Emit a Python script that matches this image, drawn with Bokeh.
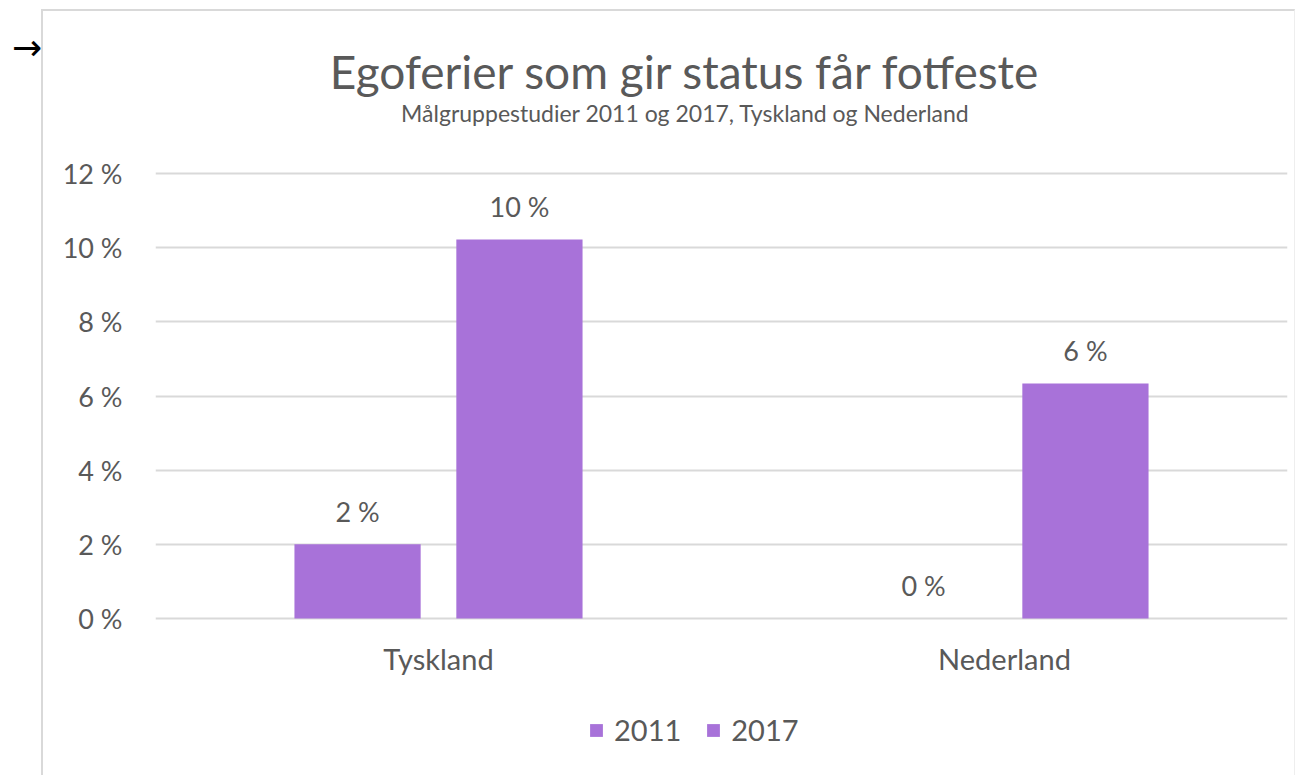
from bokeh.plotting import figure
from bokeh.models import (ColumnDataSource, FactorRange, Range1d, LabelSet, Label,
                          Legend, LegendItem, FixedTicker, CustomJSTickFormatter, Div, Spacer)
from bokeh.layouts import row, column
from bokeh.transform import dodge
from bokeh.embed import file_html
from bokeh.resources import INLINE
from bokeh.core.properties import value

categories = ["Tyskland", "Nederland"]
series_names = ["2011", "2017"]
values_2011 = [2.0, 0.0]
values_2017 = [10.22, 6.34]
y_ticks = [0, 2, 4, 6, 8, 10, 12]

title_text = "Egoferier som gir status får fotfeste"
subtitle_text = "Målgruppestudier 2011 og 2017, Tyskland og Nederland"

FONT = "Lato"
TXT = "#595959"
BAR = "#A872D9"
GRID = "#D9D9D9"

# page geometry (canvas starts at page x=43, y=11)
CX0, CY0 = 43, 11
W, H = 1254, 766
FRAME_L, FRAME_R, FRAME_T, FRAME_B = 155, 1287, 30, 772
Y0_PAGE, Y12_PAGE = 618, 173
ML = FRAME_L - CX0
MR = (CX0 + W) - FRAME_R
MT = FRAME_T - CY0
MB = (CY0 + H) - FRAME_B
PX_PER_UNIT = (Y0_PAGE - Y12_PAGE) / 12.0
Y_TOP = 12 + (Y12_PAGE - FRAME_T) / PX_PER_UNIT
Y_BOT = -(FRAME_B - Y0_PAGE) / PX_PER_UNIT

src = ColumnDataSource(dict(
    cat=categories,
    v2011=values_2011,
    v2017=values_2017,
    l2011=[f"{round(v)} %" for v in values_2011],
    l2017=[f"{round(v)} %" for v in values_2017],
))

p = figure(width=W, height=H, output_backend="svg", toolbar_location=None,
           x_range=FactorRange(*categories, range_padding=0),
           y_range=Range1d(Y_BOT, Y_TOP),
           min_border_left=ML, min_border_right=MR, min_border_top=MT, min_border_bottom=MB,
           background_fill_color="white", border_fill_color="white")
p.outline_line_color = None
p.styles = {"border-left": "2px solid #d9d9d9", "border-top": "2px solid #d9d9d9",
            "border-right": "1px solid #eeeeee"}

bw = 0.223
off = 0.143
r1 = p.vbar(x=dodge("cat", -off, range=p.x_range), top="v2011", width=bw, source=src,
            fill_color=BAR, line_color=None)
r2 = p.vbar(x=dodge("cat", off, range=p.x_range), top="v2017", width=bw, source=src,
            fill_color=BAR, line_color=None)

for col, lab, o in (("v2011", "l2011", -off), ("v2017", "l2017", off)):
    p.add_layout(LabelSet(x=dodge("cat", o, range=p.x_range), y=col, text=lab, source=src,
                          text_align="center", text_baseline="middle", y_offset=33,
                          text_font=value(FONT), text_font_size="27px", text_color=TXT))

# axes
p.yaxis.ticker = FixedTicker(ticks=y_ticks)
p.yaxis.formatter = CustomJSTickFormatter(code="return tick.toFixed(0) + ' %';")
for ax in (p.xaxis, p.yaxis):
    ax.axis_line_color = None
    ax.major_tick_line_color = None
    ax.minor_tick_line_color = None
    ax.major_label_text_font = FONT
    ax.major_label_text_color = TXT
p.yaxis.major_label_text_font_size = "27px"
p.xaxis.major_label_text_font_size = "29px"
p.yaxis.major_label_standoff = 27
p.xaxis.major_label_standoff = 16
p.xaxis.fixed_location = 0

p.xgrid.grid_line_color = None
p.ygrid.grid_line_color = GRID
p.ygrid.grid_line_width = 2
p.ygrid.ticker = FixedTicker(ticks=y_ticks)

# legend inside the (extended) frame, below the category labels
legend = Legend(items=[LegendItem(label=series_names[0], renderers=[r1]),
                       LegendItem(label=series_names[1], renderers=[r2])],
                orientation="horizontal", location=(588 - FRAME_L, 25),
                glyph_width=16, glyph_height=16, label_text_font=FONT,
                label_text_font_size="29px", label_text_color=TXT,
                label_standoff=10, spacing=24, padding=0, margin=0,
                border_line_color=None, background_fill_alpha=0)
p.add_layout(legend, "center")

# titles (inside the frame, above the 12 % line)
p.add_layout(Label(x=685 - FRAME_L, y=FRAME_B - 83 + 12, x_units="screen", y_units="screen",
                   text=title_text, text_align="center", text_baseline="alphabetic",
                   text_font=FONT, text_font_size="46px", text_color=TXT))
p.add_layout(Label(x=685 - FRAME_L, y=FRAME_B - 121 + 9, x_units="screen", y_units="screen",
                   text=subtitle_text, text_align="center", text_baseline="alphabetic",
                   text_font=FONT, text_font_size="23px", text_color=TXT))

arrow = Div(text='<div style="position:absolute; left:12px; top:30px; font-family:\'DejaVu Sans\';'
                 ' font-size:36px; line-height:36px; color:black;">→</div>',
            width=CX0 - 2, height=80, margin=0)

layout = row(arrow, column(Spacer(height=CY0 - 2, margin=0), p))

open("out.html", "w").write(file_html(layout, INLINE))
